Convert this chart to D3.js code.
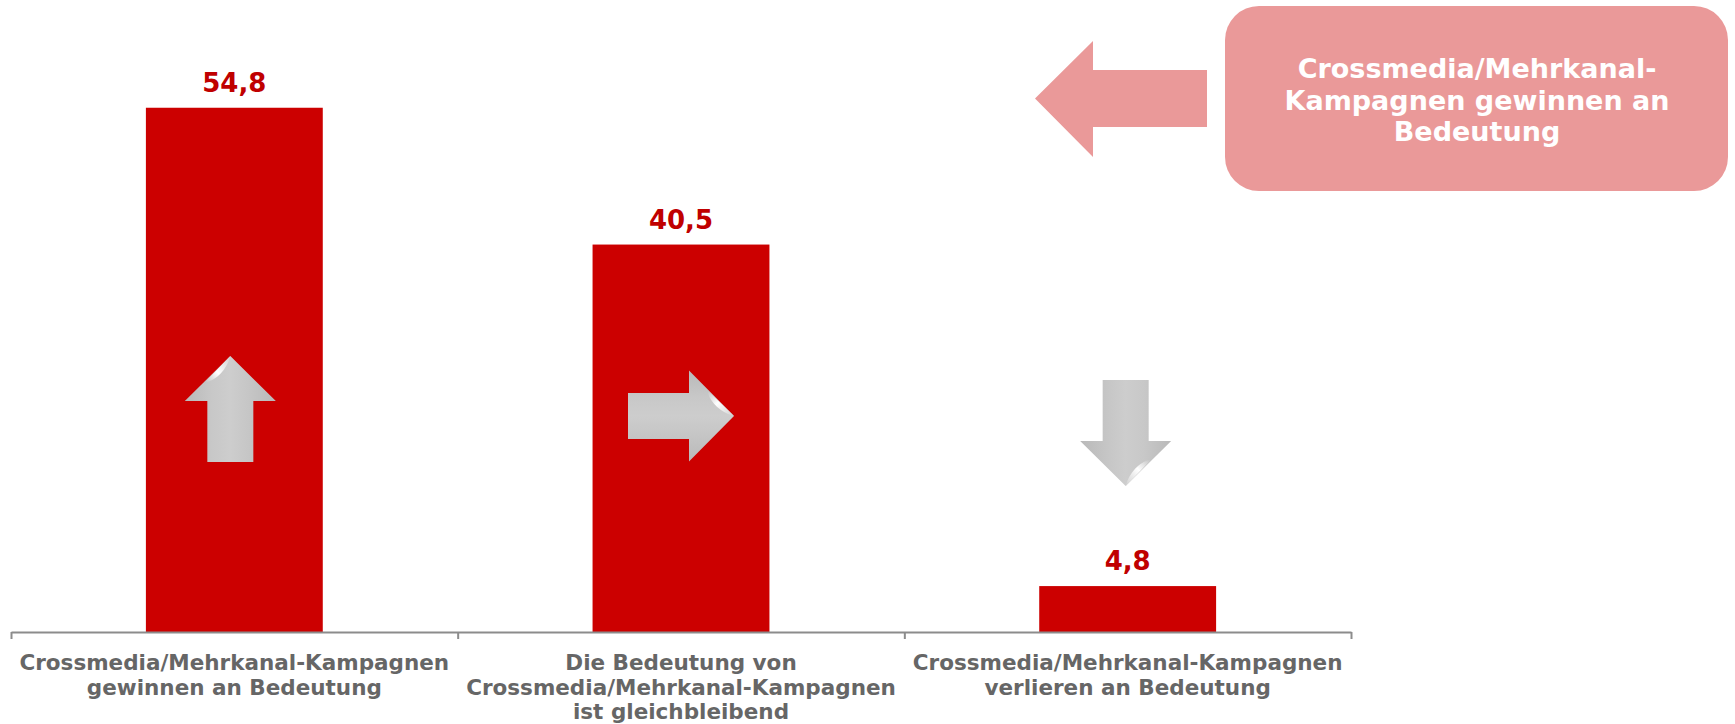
<!DOCTYPE html>
<html>
<head>
<meta charset="utf-8">
<script src="https://cdn.jsdelivr.net/npm/d3@7"></script>
<style>
  html, body { margin: 0; padding: 0; background: #fff; }
  svg { display: block; }
  text { font-family: "DejaVu Sans", Verdana, sans-serif; font-weight: bold; }
</style>
</head>
<body>
<div id="chart"></div>
<script>
// data
const categories = ["gewinnen", "gleich", "verlieren"];
const values = [54.8, 40.5, 4.8];
const tickLabels = [
  ["Crossmedia/Mehrkanal-Kampagnen", "gewinnen an Bedeutung"],
  ["Die Bedeutung von", "Crossmedia/Mehrkanal-Kampagnen", "ist gleichbleibend"],
  ["Crossmedia/Mehrkanal-Kampagnen", "verlieren an Bedeutung"]
];
const trendDirections = ["up", "right", "down"];
const calloutLines = ["Crossmedia/Mehrkanal-", "Kampagnen gewinnen an", "Bedeutung"];

const width = 1735;
const height = 724;
const axisY = 632;

const svg = d3.select("#chart")
  .append("svg")
  .attr("width", width)
  .attr("height", height);

const defs = svg.append("defs");

// bevel-ish gradient for the grey arrows
const grad = defs.append("linearGradient")
  .attr("id", "arrowFill")
  .attr("x1", "0%").attr("x2", "100%").attr("y1", "0%").attr("y2", "0%");
grad.append("stop").attr("offset", "0%").attr("stop-color", "#b9b9b9");
grad.append("stop").attr("offset", "30%").attr("stop-color", "#c8c8c8");
grad.append("stop").attr("offset", "50%").attr("stop-color", "#cdcdcd");
grad.append("stop").attr("offset", "70%").attr("stop-color", "#c6c6c6");
grad.append("stop").attr("offset", "100%").attr("stop-color", "#b9b9b9");

const curl = defs.append("linearGradient")
  .attr("id", "curlFill")
  .attr("x1", "0%").attr("x2", "100%").attr("y1", "100%").attr("y2", "0%");
curl.append("stop").attr("offset", "0%").attr("stop-color", "#bdbdbd");
curl.append("stop").attr("offset", "45%").attr("stop-color", "#ffffff");
curl.append("stop").attr("offset", "100%").attr("stop-color", "#cfcfcf");

// scales
const xSlot = d3.scaleBand()
  .domain(categories)
  .range([11, 1351])
  .padding(0);

const xBar = d3.scaleBand()
  .domain(categories)
  .range([11, 1351])
  .paddingInner(0.604)
  .paddingOuter(0.302);

const y = d3.scaleLinear()
  .domain([0, 60])
  .range([axisY, 58]);

// bars
svg.append("g")
  .selectAll("rect")
  .data(values)
  .join("rect")
  .attr("x", (d, i) => xBar(categories[i]))
  .attr("y", d => y(d))
  .attr("width", xBar.bandwidth())
  .attr("height", d => y(0) - y(d))
  .attr("fill", "#cc0000");

// value labels
svg.append("g")
  .selectAll("text")
  .data(values)
  .join("text")
  .attr("x", (d, i) => xBar(categories[i]) + xBar.bandwidth() / 2)
  .attr("y", d => y(d) - 16)
  .attr("text-anchor", "middle")
  .attr("font-size", 26)
  .attr("fill", "#c00000")
  .text(d => d.toFixed(1).replace(".", ","));

// axis with ticks at the slot edges
const edges = d3.scaleLinear()
  .domain([0, categories.length])
  .range(xSlot.range());

const axis = svg.append("g")
  .attr("transform", `translate(0,${axisY})`)
  .call(d3.axisBottom(edges)
    .tickValues(d3.range(categories.length + 1))
    .tickSize(7)
    .tickSizeOuter(0)
    .tickFormat(""));
axis.selectAll("path, line")
  .attr("stroke", "#8c8c8c")
  .attr("stroke-width", 2);

// category labels
const labelGroup = svg.append("g");
tickLabels.forEach((lines, i) => {
  const t = labelGroup.append("text")
    .attr("x", xSlot(categories[i]) + xSlot.bandwidth() / 2)
    .attr("y", 670)
    .attr("text-anchor", "middle")
    .attr("font-size", 21.5)
    .attr("fill", "#666666");
  lines.forEach((line, j) => {
    t.append("tspan")
      .attr("x", xSlot(categories[i]) + xSlot.bandwidth() / 2)
      .attr("dy", j === 0 ? 0 : 24.5)
      .text(line);
  });
});

// grey trend arrows inside the bars
const arrowShape = "M0,-53 L45.5,-8 L23,-8 L23,53 L-23,53 L-23,-8 L-45.5,-8 Z";
const curlShape = "M0,-53 L-26,-26 Q-10,-30 -2,-47 Z";
const rotation = { up: 0, right: 90, down: 180 };
const arrowDx = [-4, 0, -2];
const arrowCy = [409, 416, 433];

const arrows = svg.append("g")
  .selectAll("g")
  .data(trendDirections)
  .join("g")
  .attr("transform", (d, i) =>
    `translate(${xSlot(categories[i]) + xSlot.bandwidth() / 2 + arrowDx[i]},${arrowCy[i]}) rotate(${rotation[d]})`);

arrows.append("path")
  .attr("d", arrowShape)
  .attr("fill", "url(#arrowFill)");

arrows.append("path")
  .attr("d", curlShape)
  .attr("fill", "url(#curlFill)");

// callout box with arrow
const callout = svg.append("g");
callout.append("path")
  .attr("d", "M1035,98.5 L1093,41 L1093,70 L1207,70 L1207,127 L1093,127 L1093,157 Z")
  .attr("fill", "#ea9999");

callout.append("rect")
  .attr("x", 1225)
  .attr("y", 6)
  .attr("width", 503)
  .attr("height", 185)
  .attr("rx", 34)
  .attr("ry", 34)
  .attr("fill", "#ea9999");

const ct = callout.append("text")
  .attr("x", 1477)
  .attr("y", 78)
  .attr("text-anchor", "middle")
  .attr("font-size", 27)
  .attr("fill", "#ffffff");
calloutLines.forEach((line, j) => {
  ct.append("tspan")
    .attr("x", 1477)
    .attr("dy", j === 0 ? 0 : 31.5)
    .text(line);
});
</script>
</body>
</html>
